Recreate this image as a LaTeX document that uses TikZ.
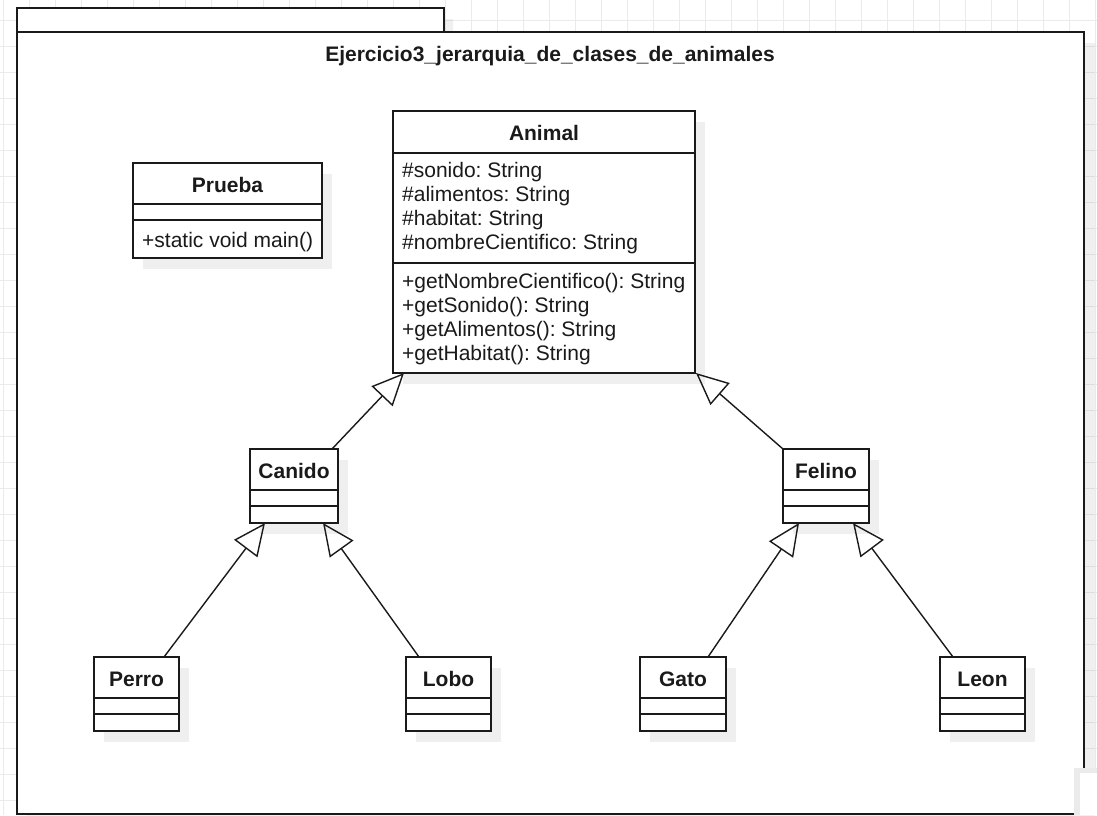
\documentclass[tikz,border=0pt]{standalone}
\usepackage{fontspec}
\setmainfont{Liberation Sans}
\usetikzlibrary{arrows.meta,calc}
\frenchspacing
\definecolor{ink}{HTML}{1A1A1A}
\definecolor{gridc}{HTML}{EBEBEB}
\definecolor{shadc}{HTML}{EFEFEF}
\tikzset{
  gridline/.style={draw=gridc, line width=1pt},
  cls/.style={draw=ink, fill=white, line width=1.4pt, inner sep=0pt, outer sep=0pt},
  clsline/.style={draw=ink, line width=1.4pt},
  shadowbox/.style={fill=shadc},
  ctitle/.style={font=\fontsize{21}{24}\selectfont\bfseries, text=ink, inner sep=0pt},
  member/.style={font=\fontsize{21}{24}\selectfont, text=ink, inner sep=0pt, anchor=base west},
  inh/.style={draw=ink, line width=1.4pt, -{Triangle[open, length=32pt, width=29pt, line width=1.4pt]}},
}
\newcommand\smallcls[5]{%
  \fill[shadowbox] (#2+10,#3+11) rectangle ++(#4,74);
  \node[cls, minimum width=#4pt, minimum height=74pt, anchor=north west] (#1) at (#2,#3) {};
  \draw[clsline] ($(#1.north west)+(0,41)$) -- ($(#1.north east)+(0,41)$);
  \draw[clsline] ($(#1.north west)+(0,57)$) -- ($(#1.north east)+(0,57)$);
  \node[ctitle, anchor=base] (#1-t) at ($(#1.north)+(0,29)$) {#5};
}
\begin{document}
\begin{tikzpicture}[x=1pt,y=-1pt]
\useasboundingbox (0,0) rectangle (1097,815);
\fill[white] (0,0) rectangle (1097,815);
% background grid
\foreach \gx in {3,29,...,1097} \draw[gridline] (\gx,0) -- (\gx,815);
\foreach \gy in {20,46,...,815} \draw[gridline] (0,\gy) -- (1097,\gy);
% frame shadow
\fill[black, opacity=0.06] (26,19) rectangle (453,43) (26,43) rectangle (1095,826);
% package frame
\node[draw=ink, fill=white, line width=2pt, inner sep=0pt, minimum width=427pt, minimum height=24pt, anchor=north west] (tab) at (16,7) {};
\node[draw=ink, fill=white, line width=2pt, inner sep=0pt, minimum width=1067pt, minimum height=782pt, anchor=north west] (frame) at (16,31) {};
\node[ctitle, anchor=base] (ftitle) at (550,61) {Ejercicio3\_jerarquia\_de\_clases\_de\_animales};
% Prueba
\fill[shadowbox] (143,174) rectangle ++(189,95);
\node[cls, minimum width=189pt, minimum height=95pt, anchor=north west] (prueba) at (133,163) {};
\draw[clsline] ($(prueba.north west)+(0,41)$) -- ($(prueba.north east)+(0,41)$);
\draw[clsline] ($(prueba.north west)+(0,57)$) -- ($(prueba.north east)+(0,57)$);
\node[ctitle, anchor=base] (prueba-t) at ($(prueba.north)+(0,29)$) {Prueba};
\node[member] (prueba-m1) at (142,247) {+static void main()};
% Animal
\fill[shadowbox] (403,122) rectangle ++(302,262);
\node[cls, minimum width=302pt, minimum height=262pt, anchor=north west] (animal) at (393,111) {};
\draw[clsline] ($(animal.north west)+(0,42)$) -- ($(animal.north east)+(0,42)$);
\draw[clsline] ($(animal.north west)+(0,152)$) -- ($(animal.north east)+(0,152)$);
\node[ctitle, anchor=base] (animal-t) at ($(animal.north)+(0,29)$) {Animal};
\node[member] (a1) at (402,177.5) {\#sonido: String};
\node[member] (a2) at (402,201.5) {\#alimentos: String};
\node[member] (a3) at (402,225.5) {\#habitat: String};
\node[member] (a4) at (402,249.5) {\#nombreCientifico: String};
\node[member] (m1) at (402,288) {+getNombreCientifico(): String};
\node[member] (m2) at (402,312) {+getSonido(): String};
\node[member] (m3) at (402,336) {+getAlimentos(): String};
\node[member] (m4) at (402,360.5) {+getHabitat(): String};
% small classes
\smallcls{canido}{250}{449}{88}{Canido}
\smallcls{felino}{783}{449}{86}{Felino}
\smallcls{perro}{94}{657}{85}{Perro}
\smallcls{lobo}{406}{657}{85}{Lobo}
\smallcls{gato}{640}{657}{86}{Gato}
\smallcls{leon}{940}{657}{85}{Leon}
% generalizations
\draw[inh] ($(canido.north east)+(-6,0)$) -- ($(animal.south west)+(11,0)$);
\draw[inh] (felino.north west) -- ($(animal.south east)+(1,0)$);
\draw[inh] ($(perro.north west)+(70,0)$) -- ($(canido.south west)+(15,0)$);
\draw[inh] ($(lobo.north west)+(13,0)$) -- ($(canido.south west)+(73,0)$);
\draw[inh] ($(gato.north west)+(68,0)$) -- ($(felino.south west)+(16,0)$);
\draw[inh] ($(leon.north west)+(13,0)$) -- ($(felino.south west)+(70,0)$);
% partially visible element at bottom right
\fill[black!8] (1074,768) rectangle (1097,815);
\fill[white] (1080,773) rectangle (1097,815);
\end{tikzpicture}
\end{document}
